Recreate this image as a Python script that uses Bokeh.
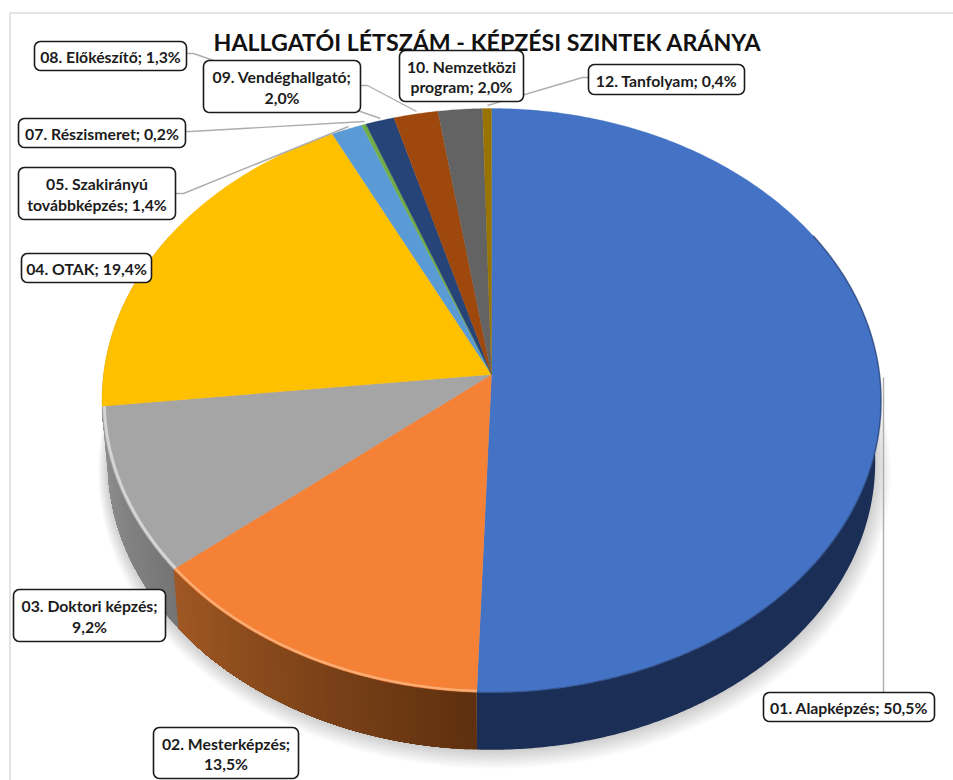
import math
from bokeh.plotting import figure
from bokeh.embed import file_html
from bokeh.resources import INLINE
from bokeh.core.properties import value

TITLE = "HALLGATÓI LÉTSZÁM - KÉPZÉSI SZINTEK ARÁNYA"
categories = ["01. Alapképzés", "02. Mesterképzés", "03. Doktori képzés", "04. OTAK",
              "05. Szakirányú továbbképzés", "07. Részismeret", "08. Előkészítő",
              "09. Vendéghallgató", "10. Nemzetközi program", "12. Tanfolyam"]
shares = [50.5, 13.5, 9.2, 19.4, 1.4, 0.2, 1.3, 2.0, 2.0, 0.4]
share_labels = ["50,5%", "13,5%", "9,2%", "19,4%", "1,4%", "0,2%", "1,3%", "2,0%", "2,0%", "0,4%"]
top_colors = ["#4472C4", "#F58136", "#A5A5A5", "#FFC000", "#5B9BD5", "#70AD47", "#264478", "#9E480E", "#636363", "#997300"]
# wall colour at the start and at the end of each slice's sweep
wall_from = ["#1B2E55", "#5E300F", "#757575", "#8A8A8A", "#3A6A96", "#4A7530", "#18294A", "#5F2B08", "#3C3C3C", "#5C4500"]
wall_to = ["#1B2E55", "#A05823", "#939393", "#8A8A8A", "#3A6A96", "#4A7530", "#18294A", "#5F2B08", "#3C3C3C", "#5C4500"]

# label boxes in reference pixels: x0, x1, y0, y1, text lines
boxes = [
    (763, 934, 692, 721, ["01. Alapképzés; 50,5%"]),
    (153, 298, 727, 778, ["02. Mesterképzés;", "13,5%"]),
    (13, 165, 589, 641, ["03. Doktori képzés;", "9,2%"]),
    (21, 151, 253, 282, ["04. OTAK; 19,4%"]),
    (18, 175, 167, 219, ["05. Szakirányú", "továbbképzés; 1,4%"]),
    (18, 185, 118, 147, ["07. Részismeret; 0,2%"]),
    (34, 186, 41, 70, ["08. Előkészítő; 1,3%"]),
    (203, 360, 60, 112, ["09. Vendéghallgató;", "2,0%"]),
    (399, 523, 50, 101, ["10. Nemzetközi", "program; 2,0%"]),
    (588, 744, 64, 94, ["12. Tanfolyam; 0,4%"]),
]
leaders = [
    ([883, 883], [692, 377]),
    ([175, 183, 348], [193, 193, 126]),
    ([185, 190, 364], [131, 131, 121]),
    ([186, 193, 380], [53, 53, 118]),
    ([360, 367, 416], [85, 85, 111]),
    ([588, 582, 487], [77, 77, 105]),
]

CX, CY, B, A, K = 491.0, 374.0, 388.0, 289.7, 0.0891
CY2, S = 436.0, 0.985


def rim(deg, bottom=False, scale=1.0, dy=0.0):
    t = math.radians(deg)
    u, v = math.sin(t), math.cos(t)
    w = 1 + K * v
    s = (S if bottom else 1.0) * scale
    cy = CY2 if bottom else CY
    return CX + s * B * u / w, cy + dy - s * A * v / w


def sweep(a, b, bottom=False, scale=1.0, dy=0.0):
    n = max(2, int(abs(b - a) / 0.5) + 1)
    pts = [rim(a + (b - a) * i / (n - 1), bottom, scale, dy) for i in range(n)]
    return [q[0] for q in pts], [q[1] for q in pts]


def mix(c0, c1, f):
    a = [int(c0[i:i + 2], 16) for i in (1, 3, 5)]
    b = [int(c1[i:i + 2], 16) for i in (1, 3, 5)]
    return "#%02X%02X%02X" % tuple(round(x + (y - x) * f) for x, y in zip(a, b))


p = figure(width=953, height=780, x_range=(0, 953), y_range=(780, 0),
           toolbar_location=None, output_backend="svg", min_border=0,
           x_axis_type=None, y_axis_type=None)
p.grid.visible = False
p.outline_line_color = None
p.background_fill_color = "white"

# frame of the screenshot
p.line([953, 9.5, 9.5], [12.5, 12.5, 780], line_color="#DCDCDC", line_width=1.6)

# soft shadow behind the body
for i in range(12, 0, -1):
    xs, ys = sweep(0, 360, True, 1 + i * 0.0028, i * 0.7)
    p.patch([x + i * 0.25 for x in xs], ys, fill_color="black", fill_alpha=0.016, line_color=None)

# slice boundaries
bounds = [0.0]
for s in shares:
    bounds.append(bounds[-1] + s * 3.6)
span = bounds[-1]
bounds = [b * 360 / span for b in bounds]

# wall: every step runs on to the end of the slice, so no seams show between steps
VIS0, VIS1 = 60.0, 300.0
for i in range(len(shares)):
    a, b = max(bounds[i], VIS0), min(bounds[i + 1], VIS1)
    if b <= a:
        continue
    n = max(1, int((b - a) / 1.0)) if wall_from[i] != wall_to[i] else 1
    for j in range(n):
        d0 = a + (b - a) * j / n
        xt, yt = sweep(d0, b)
        xb, yb = sweep(d0, b, True)
        c = mix(wall_from[i], wall_to[i], (j + 0.5) / n)
        p.patch(xt + xb[::-1], yt + yb[::-1], fill_color=c, line_color=None)

# top face
for i in range(len(shares)):
    xs, ys = sweep(bounds[i], bounds[i + 1])
    p.patch([CX] + xs, [CY] + ys, fill_color=top_colors[i], line_color=top_colors[i], line_width=0.3)

# bevel along the front rim
for i, (col, wd, al, sc) in {1: ("#FBB27E", 2.4, 0.9, 0.995), 2: ("#D6D6D6", 3.0, 0.95, 0.994)}.items():
    xs, ys = sweep(bounds[i], bounds[i + 1], False, sc)
    p.line(xs, ys, line_color=col, line_width=wd, line_alpha=al)
xs, ys = sweep(60, bounds[1])
p.line(xs, ys, line_color="#263F72", line_width=1.6, line_alpha=0.6)

# leaders
for lx, ly in leaders:
    p.line(lx, ly, line_color="#ADADAD", line_width=1.4)


def rounded(x0, x1, y0, y1, r=6.0):
    xs, ys = [], []
    for cx, cy, a0 in ((x1 - r, y0 + r, -90), (x1 - r, y1 - r, 0), (x0 + r, y1 - r, 90), (x0 + r, y0 + r, 180)):
        for k in range(7):
            t = math.radians(a0 + 15 * k)
            xs.append(cx + r * math.cos(t))
            ys.append(cy + r * math.sin(t))
    return xs, ys


# labels
tx, ty, tt = [], [], []
for x0, x1, y0, y1, lines in boxes:
    bx, by = rounded(x0, x1, y0, y1)
    p.patch(bx, by, fill_color="white", line_color="#1A1A1A", line_width=1.6)
    mid = (y0 + y1) / 2
    for n, line in enumerate(lines):
        tx.append((x0 + x1) / 2)
        ty.append(mid + (n - (len(lines) - 1) / 2) * 20.5 + 0.5)
        tt.append(line)
p.text(tx, ty, text=tt, text_font=value("Lato"), text_font_style="bold", text_font_size="15.8px",
       text_color="#1C1C1C", text_align="center", text_baseline="middle")

p.text([487], [41], text=[TITLE], text_font=value("Lato"), text_font_style="bold", text_font_size="23.2px",
       text_color="#111111", text_align="center", text_baseline="middle")

open("out.html", "w").write(file_html(p, INLINE))
